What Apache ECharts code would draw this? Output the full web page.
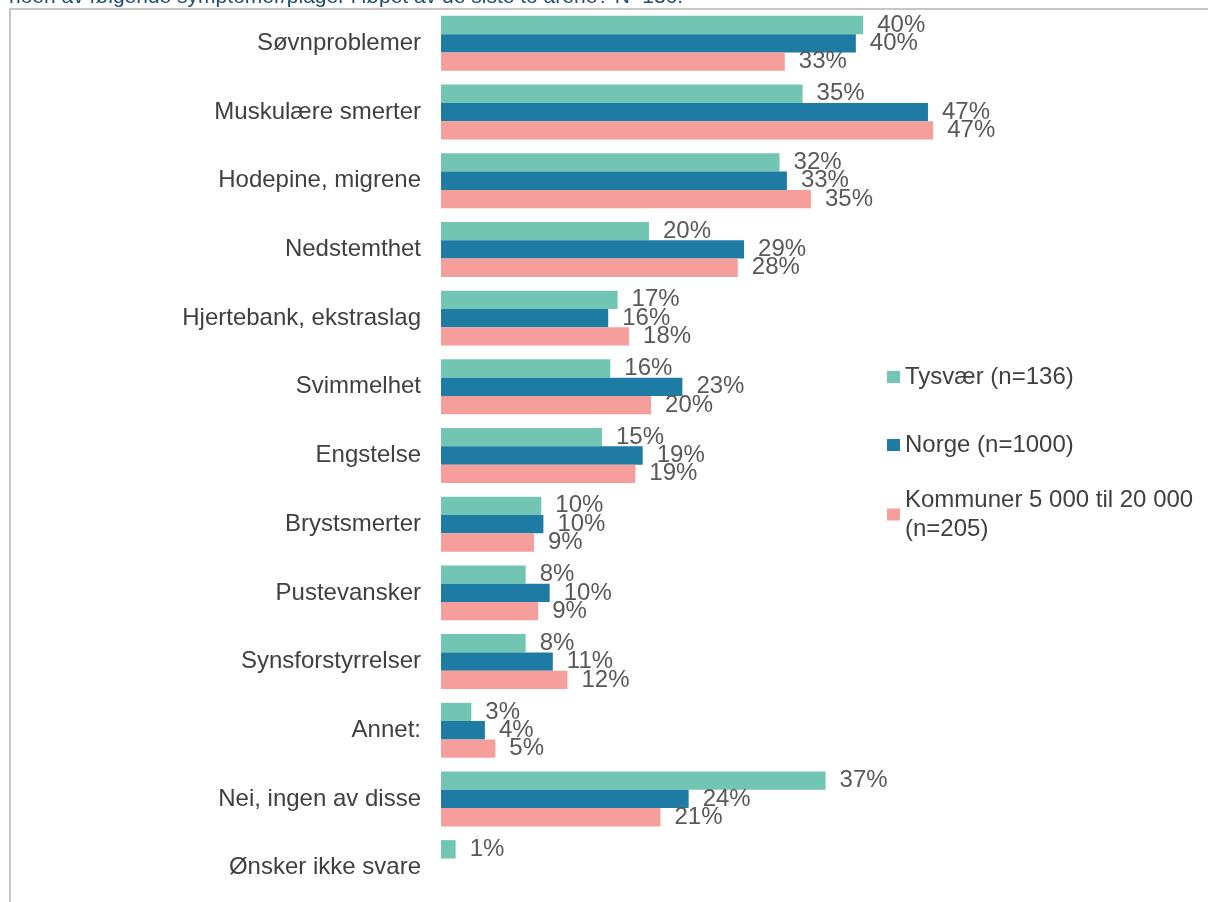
<!DOCTYPE html>
<html>
<head>
<meta charset="utf-8">
<script src="https://cdn.jsdelivr.net/npm/echarts@6/dist/echarts.min.js"></script>
<style>
  html, body { margin: 0; padding: 0; background: #fff; }
  #chart { width: 1208px; height: 902px; }
</style>
</head>
<body>
<div id="chart"></div>
<script>
const CATEGORIES = [
    'Søvnproblemer', 'Muskulære smerter', 'Hodepine, migrene', 'Nedstemthet',
    'Hjertebank, ekstraslag', 'Svimmelhet', 'Engstelse', 'Brystsmerter',
    'Pustevansker', 'Synsforstyrrelser', 'Annet:', 'Nei, ingen av disse', 'Ønsker ikke svare'
];
const SERIES_NAMES = ['Tysvær (n=136)', 'Norge (n=1000)', 'Kommuner 5 000 til 20 000 (n=205)'];
// verdier i prosent, lest av bildet
const TYSVAER = [40.4, 34.6, 32.4, 19.9, 16.9, 16.2, 15.4, 9.6, 8.1, 8.1, 2.9, 36.8, 1.4];
const NORGE = [39.7, 46.6, 33.1, 29.0, 16.0, 23.1, 19.3, 9.8, 10.4, 10.7, 4.2, 23.7, null];
const KOMMUNER = [32.9, 47.1, 35.4, 28.4, 18.0, 20.1, 18.6, 8.9, 9.3, 12.1, 5.2, 21.0, null];
const COLOR_LIST = ['#72c4b3', '#1e7ba3', '#f69e9c'];
const TITLE_TEXT = 'noen av følgende symptomer/plager i løpet av de siste to årene? N=136.';

const FONT = '"Liberation Sans", Arial, sans-serif';

const chart = echarts.init(document.getElementById('chart'));

function makeSeries(name, data, color){
    return {
        name: name,
        type: 'bar',
        data: data,
        barGap: 0,
        barCategoryGap: '20%',
        itemStyle: {color: color},
        label: {
            show: true,
            position: 'right',
            distance: 14,
            fontFamily: FONT,
            fontSize: 24,
            color: '#595959',
            formatter: p => Math.round(p.value) + '%'
        }
    };
}

function makeLegend(name, top, extra){
    return {
        orient: 'vertical',
        left: 887,
        top: top,
        padding: 0,
        itemWidth: 13,
        itemHeight: 12,
        itemGap: 5,
        icon: 'rect',
        selectedMode: false,
        textStyle: Object.assign({
            fontFamily: FONT,
            fontSize: 24,
            color: '#404040',
            lineHeight: 26
        }, extra || {}),
        formatter: n => n.replace(' (n=205)', '\n(n=205)'),
        data: [name]
    };
}

chart.setOption({
    animation: false,
    grid: {left: 441, right: 140, top: 9, bottom: 0},
    xAxis: {
        type: 'value',
        min: 0,
        max: 60,
        show: false
    },
    yAxis: {
        type: 'category',
        inverse: true,
        data: CATEGORIES,
        axisLine: {show: false},
        axisTick: {show: false},
        axisLabel: {
            margin: 20,
            fontFamily: FONT,
            fontSize: 24,
            color: '#404040'
        }
    },
    legend: [
        makeLegend(SERIES_NAMES[0], 364),
        makeLegend(SERIES_NAMES[1], 432),
        makeLegend(SERIES_NAMES[2], 471, {lineHeight: 29, padding: [29, 0, 0, 0]})
    ],
    graphic: [
        {
            type: 'rect',
            shape: {x: 10, y: 9, width: 1220, height: 920},
            style: {fill: 'none', stroke: '#b4b4b4', lineWidth: 1.5},
            silent: true
        },
        {
            type: 'text',
            x: 9,
            y: -3,
            style: {
                text: TITLE_TEXT,
                font: '21px ' + FONT,
                fill: '#1f4e6b',
                verticalAlign: 'middle'
            },
            silent: true
        }
    ],
    series: [
        makeSeries(SERIES_NAMES[0], TYSVAER, COLOR_LIST[0]),
        makeSeries(SERIES_NAMES[1], NORGE, COLOR_LIST[1]),
        makeSeries(SERIES_NAMES[2], KOMMUNER, COLOR_LIST[2])
    ]
});
</script>
</body>
</html>
